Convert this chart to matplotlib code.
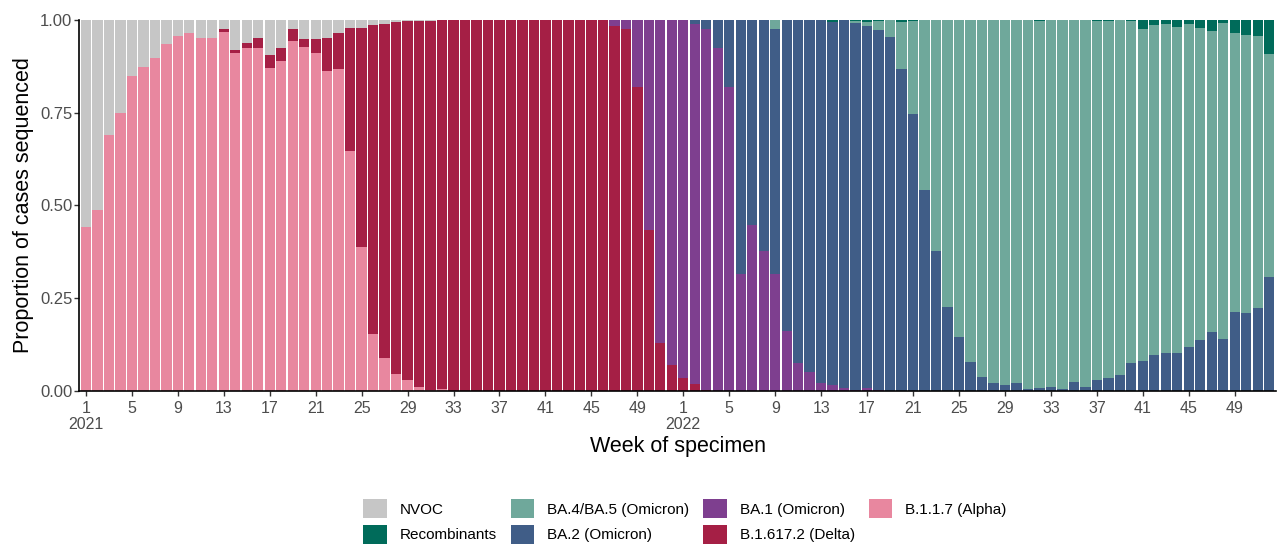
import numpy as np
import matplotlib
matplotlib.use("Agg")
import matplotlib.pyplot as plt
from matplotlib.patches import Patch

plt.rcParams['font.family'] = ['Liberation Sans', 'DejaVu Sans']

# weeks: 2021 w1-52 then 2022 w1-52
weeks_2021 = list(range(1, 53))
weeks_2022 = list(range(1, 53))
z = [0.0]

alpha = [0.443, 0.488, 0.690, 0.750, 0.850, 0.872, 0.897, 0.934, 0.957, 0.964,
         0.952, 0.951, 0.968, 0.910, 0.925, 0.925, 0.870, 0.890, 0.943, 0.926,
         0.912, 0.863, 0.867, 0.648, 0.389, 0.154, 0.088, 0.046, 0.030, 0.010,
         0.002, 0.004] + z * 20 + z * 52

delta = z * 12 + [0.007, 0.009, 0.012, 0.026, 0.036, 0.035, 0.032, 0.022,
                  0.036, 0.088, 0.099, 0.330, 0.589, 0.833, 0.901, 0.948,
                  0.966, 0.987, 0.996, 0.996] + [1.0] * 14 + \
        [0.984, 0.976, 0.820, 0.434, 0.128, 0.070] + [0.034, 0.019, 0.003] + z * 49

nvoc = [0.557, 0.512, 0.310, 0.250, 0.150, 0.128, 0.103, 0.066, 0.043, 0.036,
        0.048, 0.049, 0.025, 0.081, 0.063, 0.049, 0.094, 0.075, 0.025, 0.052,
        0.052, 0.049, 0.034, 0.022, 0.022, 0.013, 0.011, 0.006, 0.004, 0.003,
        0.002] + z * 21 + z * 52

ba1 = z * 46 + [0.016, 0.024, 0.180, 0.566, 0.872, 0.930] + \
      [0.966, 0.971, 0.973, 0.924, 0.819, 0.314, 0.447, 0.378, 0.314, 0.163,
       0.075, 0.052, 0.021, 0.016, 0.007, 0.002, 0.007, 0.002] + z * 34

ba2 = z * 52 + [0.0, 0.010, 0.024, 0.076, 0.181, 0.686, 0.553, 0.622, 0.662, 0.837,
                0.925, 0.948, 0.979, 0.979, 0.993, 0.990, 0.977, 0.971, 0.955, 0.867,
                0.747, 0.542, 0.378, 0.226, 0.146, 0.077, 0.037, 0.021, 0.016, 0.021,
                0.005, 0.007, 0.010, 0.005, 0.023, 0.010, 0.030, 0.034, 0.043, 0.076,
                0.082, 0.096, 0.102, 0.103, 0.119, 0.137, 0.160, 0.139, 0.214, 0.209,
                0.223, 0.308]

ba45 = z * 52 + [0.0, 0.0, 0.0, 0.0, 0.0, 0.0, 0.0, 0.0, 0.024, 0.0,
                 0.0, 0.0, 0.0, 0.0, 0.0, 0.005, 0.011, 0.025, 0.045, 0.127,
                 0.250, 0.458, 0.622, 0.774, 0.854, 0.923, 0.963, 0.979, 0.984, 0.979,
                 0.995, 0.990, 0.990, 0.995, 0.977, 0.990, 0.967, 0.964, 0.957, 0.921,
                 0.894, 0.890, 0.887, 0.877, 0.869, 0.841, 0.811, 0.852, 0.750, 0.751,
                 0.734, 0.600]

recomb = z * 52 + [0.0, 0.0, 0.0, 0.0, 0.0, 0.0, 0.0, 0.0, 0.0, 0.0,
                   0.0, 0.0, 0.0, 0.005, 0.0, 0.003, 0.005, 0.002, 0.0, 0.006,
                   0.003, 0.0, 0.0, 0.0, 0.0, 0.0, 0.0, 0.0, 0.0, 0.0,
                   0.0, 0.003, 0.0, 0.0, 0.0, 0.0, 0.003, 0.002, 0.0, 0.003,
                   0.024, 0.014, 0.011, 0.020, 0.012, 0.022, 0.029, 0.009, 0.036, 0.040,
                   0.043, 0.092]

# bottom to top
series = [
    ("B.1.1.7 (Alpha)", alpha, "#e8879f"),
    ("B.1.617.2 (Delta)", delta, "#a51f45"),
    ("BA.1 (Omicron)", ba1, "#7e3f8f"),
    ("BA.2 (Omicron)", ba2, "#405d87"),
    ("BA.4/BA.5 (Omicron)", ba45, "#6fa89b"),
    ("Recombinants", recomb, "#006b5a"),
    ("NVOC", nvoc, "#c6c6c6"),
]

x = np.arange(1, len(weeks_2021) + len(weeks_2022) + 1)

fig = plt.figure(figsize=(12.79, 5.45), dpi=100)
ax = fig.add_axes([0.0618, 0.2826, 0.9359, 0.6807])

bottom = np.zeros(len(x))
for name, vals, col in series:
    v = np.array(vals)
    ax.bar(x, v, width=0.9, bottom=bottom, color=col, linewidth=0)
    bottom += v

ax.set_xlim(0.4, len(x) + 0.6)
ax.set_ylim(0, 1)

tick_pos = []
tick_lab = []
for yi, (yr, wk) in enumerate([(2021, weeks_2021), (2022, weeks_2022)]):
    for w in wk[::4]:
        tick_pos.append(yi * 52 + w)
        tick_lab.append(f"{w}\n{yr}" if w == 1 else str(w))
ax.set_xticks(tick_pos)
ax.set_xticklabels(tick_lab, fontsize=11.5, color="#4d4d4d", linespacing=1.1)
ax.set_yticks([0, 0.25, 0.5, 0.75, 1.0])
ax.set_yticklabels(["0.00", "0.25", "0.50", "0.75", "1.00"], fontsize=12, color="#4d4d4d")
ax.tick_params(axis="both", length=3.3, width=1, color="#333333")
ax.tick_params(axis="x", pad=4)
ax.tick_params(axis="y", pad=1.5)

for s in ["top", "right"]:
    ax.spines[s].set_visible(False)
for s in ["left", "bottom"]:
    ax.spines[s].set_linewidth(1.2)
    ax.spines[s].set_color("black")

ax.set_xlabel("Week of specimen", fontsize=15.5, labelpad=3)
ax.set_ylabel("Proportion of cases sequenced", fontsize=15.5, labelpad=4)

legend_order = ["NVOC", "Recombinants", "BA.4/BA.5 (Omicron)", "BA.2 (Omicron)",
                "BA.1 (Omicron)", "B.1.617.2 (Delta)", "B.1.1.7 (Alpha)"]
cols = {n: c for n, _, c in series}
handles = [Patch(facecolor=cols[n], edgecolor="none", label=n) for n in legend_order]
fig.legend(handles=handles, ncol=4, loc="center", bbox_to_anchor=(0.5355, 0.043),
           frameon=False, fontsize=11, handlelength=1.55, handleheight=1.55,
           handletextpad=0.85, columnspacing=0.9, labelspacing=0.42,
           borderpad=0.1)

fig.savefig("out.png", dpi=100)
